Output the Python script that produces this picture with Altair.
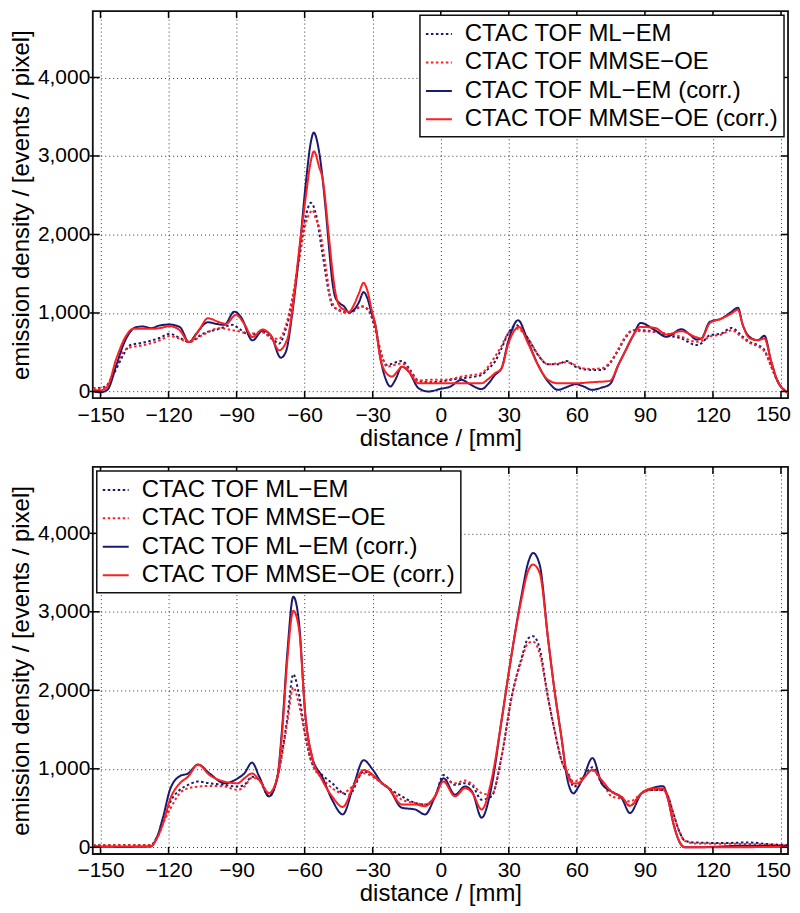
import altair as alt
import pandas as pd

SERIES = ["CTAC TOF ML−EM", "CTAC TOF MMSE−OE", "CTAC TOF ML−EM (corr.)", "CTAC TOF MMSE−OE (corr.)"]
COLORS = ["#1a1a70", "#ff1f1f", "#1a1a70", "#ff1f1f"]
DASHES = [[2.5, 2.5], [2.5, 2.5], [1, 0], [1, 0]]
X_TICKS = [-150, -120, -90, -60, -30, 0, 30, 60, 90, 120, 150]
Y_TICKS = [0, 1000, 2000, 3000, 4000]
EDGE_LABEL = ["150"]

# ---------------- top panel ----------------
TOP_EM_DOT_X = [-153.3, -148, -144.4, -140, -137.1, -131.3, -124, -119.5, -115, -111, -104.9, -97.6, -91.7, -88.8,
                -84.4, -78.5, -74.2, -71.3, -68.3, -65.4, -62.4, -59.5, -57.3, -55.1, -52.2, -49.3, -47.8, -44.9,
                -40.5, -34.7, -31.8, -28.8, -26.6, -23.7, -20, -17.1, -13.5, -9.8, -5.4, 0, 4.5, 9.2, 14, 18, 21,
                23.9, 26.8, 29.7, 33.4, 36, 38.5, 42.9, 47.3, 51.7, 55.5, 59.3, 62, 66.6, 71, 74.6, 78.3, 81.2,
                84.9, 88.1, 94.4, 99.5, 106.1, 112.7, 114.9, 118.6, 123.7, 128.1, 133.2, 136.1, 139.8, 142.7,
                145.7, 148.6, 152.2, 153.2]
TOP_EM_DOT_Y = [40, 60, 210, 462, 588, 622, 681, 735, 681, 630, 735, 798, 849, 798,
                723, 756, 672, 609, 798, 1134, 1723, 2227, 2403, 2269, 1765, 1260, 1092, 1042,
                1000, 1084, 1030, 781, 506, 337, 370, 388, 274, 135, 118, 127, 150, 169, 185, 211, 290,
                380, 549, 738, 844, 780, 675, 464, 346, 346, 388, 316, 290, 274, 274, 359, 527, 675,
                781, 781, 760, 717, 675, 591, 612, 717, 738, 810, 696, 633, 591, 527,
                316, 127, 0, -20]

TOP_OE_DOT_X = [-153.3, -148, -144.4, -140, -137.1, -131.3, -124, -119.5, -115, -111, -104.9, -97.6, -91.7, -88.8,
                -84.4, -78.5, -74.2, -71.3, -68.3, -65.4, -62.4, -59.5, -57.3, -56.5, -55.1, -53.7, -50.7, -48.5,
                -44.9, -40.5, -34.7, -31.8, -28.8, -26.6, -23.7, -20, -17.1, -13.5, -9.8, -5.4, 0, 4.5, 9.2, 14,
                18, 21, 23.9, 26.8, 29.7, 33.4, 36, 38.5, 42.9, 47.3, 51.7, 55.5, 59.3, 62, 66.6, 71, 74.6, 78.3,
                81.2, 84.9, 88.1, 94.4, 99.5, 106.1, 112.7, 114.9, 118.6, 123.7, 128.1, 133.2, 136.1, 139.8,
                142.7, 145.7, 148.6, 152.2, 153.2]
TOP_OE_DOT_Y = [30, 50, 230, 504, 560, 588, 650, 706, 670, 630, 720, 807, 780, 765,
                735, 756, 672, 672, 840, 1200, 1681, 2143, 2290, 2311, 2200, 2101, 1597, 1176,
                1030, 1000, 1084, 1040, 800, 530, 316, 340, 359, 260, 140, 148, 148, 160, 190, 210,
                232, 320, 443, 580, 740, 802, 760, 675, 470, 346, 359, 371, 337, 300, 287, 295, 370, 540,
                690, 781, 768, 760, 738, 696, 633, 640, 700, 726, 781, 680, 620, 575,
                510, 316, 127, 0, -20]

TOP_EM_SOL_X = [-153.3, -150, -147, -143, -140, -137, -134.2, -131.3, -127.6, -124, -119.5, -115, -111, -107.8,
                -102.7, -99, -95.4, -91, -88, -83, -78.5, -74.9, -70.5, -68.3, -65.4, -62.4, -59.5, -57.3, -56,
                -53.7, -50.7, -49, -47.8, -46.5, -44.9, -42.5, -40.5, -38, -36.1, -34, -32.5, -30.5, -28.8,
                -26.6, -24.4, -22.2, -20, -17.1, -14, -9.8, -5.4, 0, 4, 9.2, 13, 18, 21, 23.9, 26.8, 29.7, 34.1,
                38.5, 42.9, 47.3, 51.7, 56.1, 59.3, 62.5, 66.6, 71, 74.6, 78.3, 81.2, 84.9, 88.1, 94.4, 99.5,
                106.1, 110, 112.7, 114.9, 118.6, 123.7, 128.1, 131, 133.2, 136.1, 139.8, 142.7, 145.7, 148.6,
                152.2, 153.2]
TOP_EM_SOL_Y = [0, -10, 20, 336, 590, 756, 820, 828, 807, 840, 853, 820, 630, 735,
                882, 861, 849, 1017, 945, 651, 777, 714, 430, 504, 1008, 1765, 2647, 3172, 3298,
                3067, 2311, 1750, 1400, 1200, 1134, 1080, 1008, 1050, 1134, 1266, 1200, 1000, 844,
                422, 169, 63, 150, 316, 250, 42, 0, 34, 60, 148, 90, 30, 100, 211, 295, 633, 907,
                633, 338, 127, 21, 63, 93, 70, 21, 50, 93, 338, 506, 717, 873, 781, 696,
                793, 720, 662, 675, 886, 928, 1013, 1068, 844, 696, 654, 709, 380, 127,
                0, -20]

TOP_OE_SOL_X = [-153.3, -150, -147, -143, -138.6, -135.7, -131.3, -126.9, -124, -119.5, -115, -111, -106.4,
                -102.7, -97.6, -94.7, -90.3, -86.6, -83, -78.5, -74.9, -71.3, -67.6, -65.4, -62.4, -59.5, -57.5,
                -55.9, -53.5, -52.2, -49.3, -47.8, -46, -44.9, -42.5, -40.5, -38, -36.1, -34, -32.5, -30.5,
                -28.8, -26.6, -24.4, -21.5, -19, -17.1, -14, -9.8, -5.4, 0, 9.2, 18, 21, 23.9, 26.8, 29.7, 34.5,
                38.5, 42.9, 47.3, 51.7, 56.1, 59.3, 66.6, 74.6, 78.3, 81.2, 84.9, 88.1, 94.4, 99.5, 106.1,
                112.7, 114.9, 118.6, 123.7, 128.1, 131, 133.2, 136.1, 139.8, 142.7, 145.7, 148.6, 152.2, 153.2]
TOP_OE_SOL_Y = [20, 15, 60, 420, 714, 798, 798, 798, 807, 832, 777, 630, 790,
                933, 882, 861, 975, 861, 693, 790, 714, 525, 672, 1050, 1807, 2479, 2900,
                3059, 2850, 2731, 1975, 1550, 1200, 1100, 1040, 1013, 1120, 1250, 1384, 1300, 1050,
                844, 422, 250, 190, 260, 316, 250, 105, 105, 105, 105, 105, 160, 232, 295, 600, 823,
                612, 338, 148, 105, 105, 105, 118, 135, 338, 506, 717, 823, 810, 726, 768,
                690, 675, 870, 928, 992, 1042, 844, 680, 654, 675, 380, 127, 0, -20]

# ---------------- bottom panel ----------------
BOT_EM_SOL_X = [-153.3, -140, -128, -125.2, -122.3, -119.4, -115, -111.4, -107, -101.9, -95.3, -89.5, -86.6,
                -83.2, -80, -75.7, -72, -69.8, -67.6, -65, -62.5, -59.6, -56.7, -52.3, -47.9, -43.2, -38.5, -34,
                -30, -25.9, -23, -17.1, -11.3, -6.9, -2.5, 1.2, 6.3, 10.7, 14, 18, 22.4, 26.8, 31.2, 35.6, 38.5,
                40.7, 43.6, 47.3, 50.2, 53.2, 55.6, 58.5, 60.7, 63, 66.9, 71, 75.4, 79.8, 83.4, 88.5, 92.9, 98,
                100.3, 102.5, 105.4, 107.6, 112, 135.4, 153.3]
BOT_EM_SOL_Y = [10, 5, 10, 125, 397, 732, 908, 941, 1054, 941, 816, 879, 941,
                1079, 900, 649, 900, 1569, 2490, 3192, 2866, 1653, 1151, 900, 607, 419, 780, 1110,
                990, 817, 754, 503, 482, 419, 649, 880, 670, 775, 700, 377, 775, 1613, 2450, 3204, 3623,
                3749, 3602, 2660, 1990, 1403, 900, 687, 771, 900, 1137, 812, 708, 625, 437, 687, 750, 779,
                604, 312, 62, 0, 0, 21, 12]

BOT_OE_SOL_X = [-153.3, -128, -125.2, -122.3, -119.4, -115, -111.4, -107, -101.9, -95.3, -89.5, -86.6, -83.2,
                -80, -75.7, -72, -69.8, -67.6, -65, -62.5, -59.6, -56.7, -52.3, -47.9, -43.2, -38.5, -34, -25.9,
                -23, -17.1, -11.3, -6.9, -2.5, 1.2, 6.3, 10.7, 14, 18, 22.4, 26.8, 31.2, 35.6, 38.5, 40.7, 43.6,
                47.3, 50.2, 53.2, 55.6, 58.5, 60.7, 63, 66.9, 71, 75.4, 79.8, 83.4, 88.5, 92.9, 98, 100.3, 102.5,
                105.4, 107.6, 112, 153.3]
BOT_OE_SOL_Y = [10, 10, 110, 314, 607, 816, 900, 1054, 920, 837, 816, 879, 941,
                858, 690, 900, 1500, 2400, 3013, 2782, 1653, 1151, 859, 649, 515, 780, 984, 817,
                754, 545, 545, 524, 649, 838, 649, 754, 690, 482, 859, 1613, 2450, 3162, 3518, 3602, 3497,
                2660, 1990, 1403, 950, 812, 812, 880, 987, 854, 708, 640, 529, 687, 750, 750, 604, 312,
                62, 0, 0, 5]

BOT_EM_DOT_X = [-153.3, -128, -125.2, -122.3, -119.4, -115, -111.4, -107, -101.9, -95.3, -89.5, -86.6, -83.2,
                -80, -75.7, -72, -69.8, -67.6, -65, -62.5, -59.6, -56.7, -52.3, -47.9, -43.2, -40.5, -34, -25.9,
                -23, -17.1, -11.3, -6.9, -2.5, 1.2, 6.3, 10.7, 14, 18, 22.4, 26.8, 31.2, 35.6, 38.5, 40.7, 43.6,
                47.3, 50.2, 53.2, 56.8, 58.5, 62, 66.9, 71, 75.4, 79.8, 83.4, 88.5, 92.9, 98, 100.3, 102.5,
                105.4, 107.6, 112, 125, 135.4, 145, 153.3]
BOT_EM_DOT_Y = [25, 25, 125, 314, 565, 732, 795, 837, 816, 795, 774, 795, 900,
                858, 649, 900, 1234, 1653, 2205, 1946, 1402, 1067, 921, 817, 691, 670, 963, 817,
                754, 649, 565, 545, 649, 921, 796, 817, 780, 607, 649, 1152, 1906, 2408, 2660, 2689, 2534,
                1906, 1487, 1110, 900, 771, 850, 1020, 812, 708, 640, 529, 687, 729, 729, 646, 437,
                187, 83, 62, 55, 62, 40, 29]

BOT_OE_DOT_X = [-153.3, -128, -125.2, -122.3, -119.4, -115, -111.4, -107, -101.9, -95.3, -89.5, -86.6, -83.2,
                -80, -75.7, -72, -69.8, -67.6, -65, -62.5, -59.6, -56.7, -52.3, -47.9, -43.2, -40.5, -34, -25.9,
                -23, -17.1, -11.3, -6.9, -2.5, 1.2, 6.3, 10.7, 14, 18, 22.4, 26.8, 31.2, 35.6, 38.5, 40.7, 43.6,
                47.3, 50.2, 53.2, 56.8, 58.5, 62, 66.9, 71, 75.4, 79.8, 83.4, 88.5, 92.9, 98, 100.3, 102.5,
                105.4, 107.6, 112, 135.4, 153.3]
BOT_OE_DOT_Y = [25, 25, 110, 314, 481, 690, 753, 774, 782, 774, 732, 774, 887,
                858, 690, 880, 1200, 1600, 2038, 1820, 1402, 1067, 880, 754, 691, 733, 942, 817,
                754, 607, 565, 545, 649, 859, 817, 850, 800, 691, 670, 1152, 1906, 2380, 2600, 2618, 2471,
                1906, 1487, 1110, 900, 833, 880, 979, 850, 646, 620, 583, 687, 729, 729, 646, 437,
                187, 83, 50, 42, 25]

W = 697
H = 388
FONT = "Liberation Sans"
LABEL_SIZE = 21
TITLE_SIZE = 24
LABEL_PAD_X = 6


def panel(series_xy, legend_orient):
    rows = []
    for name, (xs, ys) in zip(SERIES, series_xy):
        for xv, yv in zip(xs, ys):
            rows.append({"x": xv, "y": yv, "series": name})
    df = pd.DataFrame(rows)

    x_enc = alt.X("x:Q", scale=alt.Scale(domain=[-153.4, 153.1], nice=False, zero=False),
                  axis=alt.Axis(values=X_TICKS, format="d", title="distance / [mm]", labelPadding=LABEL_PAD_X,
                                titlePadding=1, labelExpr="datum.value >= 150 ? '' : datum.label"))
    y_enc = alt.Y("y:Q", scale=alt.Scale(domain=[-85, 4845], nice=False, zero=False),
                  axis=alt.Axis(values=Y_TICKS, format=",d", title="emission density / [events / pixel]",
                                labelPadding=3, titlePadding=4))
    leg = alt.Legend(orient=legend_orient, offset=4, title=None)
    color = alt.Color("series:N", scale=alt.Scale(domain=SERIES, range=COLORS), legend=leg)
    dash = alt.StrokeDash("series:N", scale=alt.Scale(domain=SERIES, range=DASHES), legend=leg)

    base = alt.Chart(df).mark_line(interpolate="monotone", strokeWidth=2, clip=True).encode(
        x=x_enc, y=y_enc, color=color, strokeDash=dash)
    layers = [base.transform_filter(alt.datum.series == s) for s in SERIES]

    xt = alt.Chart(pd.DataFrame({"x": X_TICKS}))
    yt = alt.Chart(pd.DataFrame({"y": Y_TICKS}))
    tick_style = dict(color="black", strokeWidth=1.5)
    extras = [
        xt.mark_rule(**tick_style).encode(x=x_enc, y=alt.value(H), y2=alt.value(H - 7)),
        xt.mark_rule(**tick_style).encode(x=x_enc, y=alt.value(0), y2=alt.value(7)),
        yt.mark_rule(**tick_style).encode(y=y_enc, x=alt.value(-3), x2=alt.value(7)),
        yt.mark_rule(**tick_style).encode(y=y_enc, x=alt.value(W), x2=alt.value(W - 7)),
        alt.Chart(pd.DataFrame({"x": [150], "label": EDGE_LABEL})).mark_text(
            align="right", baseline="top", dx=10, font=FONT, fontSize=LABEL_SIZE, color="black"
        ).encode(x=x_enc, y=alt.value(H + LABEL_PAD_X), text="label:N"),
    ]
    return alt.layer(*layers, *extras).properties(width=W, height=H)


top = panel([(TOP_EM_DOT_X, TOP_EM_DOT_Y), (TOP_OE_DOT_X, TOP_OE_DOT_Y),
             (TOP_EM_SOL_X, TOP_EM_SOL_Y), (TOP_OE_SOL_X, TOP_OE_SOL_Y)], "top-right")
bottom = panel([(BOT_EM_DOT_X, BOT_EM_DOT_Y), (BOT_OE_DOT_X, BOT_OE_DOT_Y),
                (BOT_EM_SOL_X, BOT_EM_SOL_Y), (BOT_OE_SOL_X, BOT_OE_SOL_Y)], "top-left")

chart = alt.vconcat(top, bottom, spacing=14).resolve_scale(
    color="independent", strokeDash="independent", x="independent", y="independent"
).resolve_legend(color="independent", strokeDash="independent").properties(
    padding=0, background="white"
).configure_view(
    stroke="#111", strokeWidth=1.8
).configure_axis(
    grid=True, gridDash=[1, 3], gridColor="#333", gridWidth=1, gridOpacity=1,
    domain=False, ticks=False,
    labelFont=FONT, labelFontSize=LABEL_SIZE, labelColor="black",
    titleFont=FONT, titleFontSize=TITLE_SIZE, titleFontWeight="normal", titleColor="black",
).configure_legend(
    fillColor="white", strokeColor="#111", strokeWidth=1.5, padding=5,
    labelFont=FONT, labelFontSize=24, labelColor="black", labelOffset=12,
    symbolType="stroke", symbolSize=676, symbolStrokeWidth=2, rowPadding=2.5, cornerRadius=0,
    labelLimit=500,
)

chart.save("out.html", embed_options={"renderer": "svg", "actions": False})
